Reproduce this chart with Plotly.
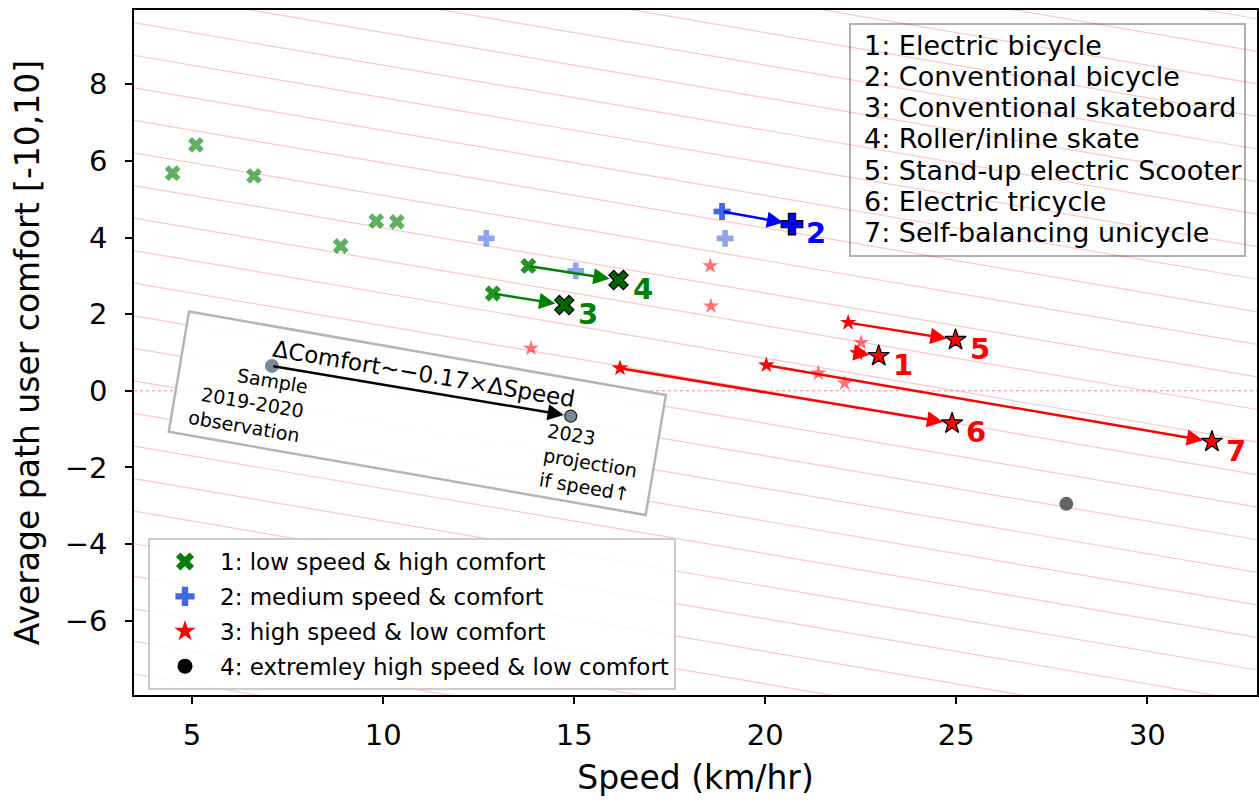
import plotly.graph_objects as go

# ---------------- data ----------------
green_speed = [4.49, 5.10, 6.62, 8.89, 9.82, 10.36, 12.87, 13.80]
green_comfort = [5.68, 6.42, 5.61, 3.78, 4.43, 4.41, 2.54, 3.26]

blue_speed = [12.70, 15.04, 18.87, 18.95]
blue_comfort = [3.98, 3.13, 4.68, 3.98]

red_speed = [13.87, 16.20, 18.56, 18.58, 20.03, 21.39, 22.08, 22.17, 22.41, 22.51]
red_comfort = [1.11, 0.59, 3.26, 2.21, 0.67, 0.46, 0.20, 1.78, 0.99, 1.26]

black_speed = [27.88]
black_comfort = [-2.95]

veh_ids = [1, 2, 3, 4, 5, 6, 7]
veh_names = ["Electric bicycle", "Conventional bicycle", "Conventional skateboard",
             "Roller/inline skate", "Stand-up electric Scooter", "Electric tricycle",
             "Self-balancing unicycle"]
veh_group = ["red", "blue", "green", "green", "red", "red", "red"]
veh_start_speed = [22.41, 18.87, 12.87, 13.80, 22.17, 16.20, 20.03]
veh_start_comfort = [0.99, 4.68, 2.54, 3.26, 1.78, 0.59, 0.67]
veh_end_speed = [22.97, 20.70, 14.74, 16.16, 24.98, 24.89, 31.69]
veh_end_comfort = [0.91, 4.35, 2.24, 2.89, 1.33, -0.85, -1.33]

demo_speed = [7.09, 14.91]
demo_comfort = [0.65, -0.66]
demo_slope = -0.17

legend_labels = ["1: low speed & high comfort", "2: medium speed & comfort",
                 "3: high speed & low comfort", "4: extremley high speed & low comfort"]

# ---------------- styles ----------------
FONT = "DejaVu Sans"
X_RANGE = [3.48, 32.87]
Y_RANGE = [-7.94, 9.94]

group_style = {
    "green": dict(symbol="x", light="rgba(0,128,0,0.62)", start="rgba(0,128,0,0.62)",
                  dark="#006400", text="#008000", size=14, dsize=17),
    "blue": dict(symbol="cross", light="rgba(65,105,225,0.6)", start="#4169e1",
                 dark="#0000ff", text="#0000ff", size=14, dsize=18),
    "red": dict(symbol="star", light="rgba(255,0,0,0.55)", start="#ff0000",
                dark="#ff0000", text="#ff0000", size=12, dsize=16),
}

fig = go.Figure()

shapes = []
# background iso-lines (slope -0.17 through each x tick on y=0)
for k in range(-9, 20):
    xa, xb = X_RANGE[0] - 5, X_RANGE[1] + 5
    shapes.append(dict(type="line", xref="x", yref="y", layer="below",
                       x0=xa, y0=demo_slope * (xa - 5 * k),
                       x1=xb, y1=demo_slope * (xb - 5 * k),
                       line=dict(color="rgba(255,0,0,0.22)", width=1.2)))
# dotted zero line
shapes.append(dict(type="line", xref="paper", yref="y", layer="below",
                   x0=0, x1=1, y0=0, y1=0,
                   line=dict(color="rgba(255,0,0,0.45)", width=1, dash="dot")))
# rotated box behind the demo arrow
box = [(4.92, 2.07), (17.40, -0.11), (16.87, -3.24), (4.39, -1.07)]
path = "M " + " L ".join(f"{a},{b}" for a, b in box) + " Z"
shapes.append(dict(type="path", xref="x", yref="y", layer="below", path=path,
                   fillcolor="rgba(255,255,255,0.92)",
                   line=dict(color="#b5b5b5", width=2.5)))
# right text legend box
px_l, px_t = 134, 10
pw, ph = 1123, 685
def px2paper(px, py):
    return (px - px_l) / pw, (px_t + ph - py) / ph
bx0, by0 = px2paper(850, 256)
bx1, by1 = px2paper(1245, 24)
shapes.append(dict(type="rect", xref="paper", yref="paper", layer="below",
                   x0=bx0, y0=by0, x1=bx1, y1=by1,
                   fillcolor="rgba(255,255,255,0.92)",
                   line=dict(color="#b0b0b0", width=2)))

# sample scatter
def add_samples(xs, ys, g):
    st = group_style[g]
    fig.add_trace(go.Scatter(x=xs, y=ys, mode="markers", showlegend=False, hoverinfo="skip",
                             marker=dict(symbol=st["symbol"], size=st["size"], color=st["light"],
                                         line=dict(width=0))))

add_samples(green_speed, green_comfort, "green")
add_samples(blue_speed, blue_comfort, "blue")
add_samples(red_speed, red_comfort, "red")
fig.add_trace(go.Scatter(x=black_speed, y=black_comfort, mode="markers", showlegend=False,
                         hoverinfo="skip",
                         marker=dict(symbol="circle", size=14, color="rgba(0,0,0,0.6)")))

# vehicle start markers
for g in ["green", "blue", "red"]:
    st = group_style[g]
    idx = [i for i in range(7) if veh_group[i] == g]
    fig.add_trace(go.Scatter(x=[veh_start_speed[i] for i in idx],
                             y=[veh_start_comfort[i] for i in idx],
                             mode="markers", showlegend=False, hoverinfo="skip",
                             marker=dict(symbol=st["symbol"], size=st["size"], color=st["start"],
                                         line=dict(width=0))))
# vehicle end markers
for g in ["green", "blue", "red"]:
    st = group_style[g]
    idx = [i for i in range(7) if veh_group[i] == g]
    fig.add_trace(go.Scatter(x=[veh_end_speed[i] for i in idx],
                             y=[veh_end_comfort[i] for i in idx],
                             mode="markers", showlegend=False, hoverinfo="skip",
                             marker=dict(symbol=st["symbol"], size=st["dsize"], color=st["dark"],
                                         line=dict(width=1.2, color="black"))))

# demo dots
fig.add_trace(go.Scatter(x=demo_speed[:1], y=demo_comfort[:1], mode="markers", showlegend=False,
                         hoverinfo="skip",
                         marker=dict(symbol="circle", size=14, color="#778899", line=dict(width=0))))
fig.add_trace(go.Scatter(x=demo_speed[1:], y=demo_comfort[1:], mode="markers", showlegend=False,
                         hoverinfo="skip",
                         marker=dict(symbol="circle", size=12, color="#778899",
                                     line=dict(width=1.2, color="#222222"))))

# legend entries
leg_styles = [("x", "#008000", 18), ("cross", "#4169e1", 18), ("star", "#ff0000", 17),
              ("circle", "#000000", 15)]
for lab, (sym, col, sz), grp in zip(legend_labels, leg_styles, ["a", "b", "c", "d"]):
    fig.add_trace(go.Scatter(x=[None], y=[None], mode="markers", name=lab, legendgroup=grp,
                             marker=dict(symbol=sym, color=col, size=sz, line=dict(width=0))))

annotations = []
# vehicle arrows and labels
for i in range(7):
    st = group_style[veh_group[i]]
    arrow_col = {"green": "#008000", "blue": "#0000ff", "red": "#ff0000"}[veh_group[i]]
    annotations.append(dict(x=veh_end_speed[i], y=veh_end_comfort[i], xref="x", yref="y",
                            ax=veh_start_speed[i], ay=veh_start_comfort[i], axref="x", ayref="y",
                            text="", showarrow=True, arrowhead=2, arrowsize=1.3, arrowwidth=2.5,
                            arrowcolor=arrow_col, standoff=9))
    annotations.append(dict(x=veh_end_speed[i], y=veh_end_comfort[i], xref="x", yref="y",
                            text=f"<b>{veh_ids[i]}</b>", showarrow=False, xshift=24, yshift=-9,
                            font=dict(family=FONT, size=29, color=st["text"])))
# demo arrow
annotations.append(dict(x=demo_speed[1], y=demo_comfort[1], xref="x", yref="y",
                        ax=demo_speed[0], ay=demo_comfort[0], axref="x", ayref="y",
                        text="", showarrow=True, arrowhead=2, arrowsize=1.3, arrowwidth=2.5,
                        arrowcolor="black", standoff=7))
ang = 9.6
mid_x = (demo_speed[0] + demo_speed[1]) / 2
mid_y = (demo_comfort[0] + demo_comfort[1]) / 2
annotations.append(dict(x=mid_x, y=mid_y, xref="x", yref="y", text="ΔComfort~−0.17×ΔSpeed",
                        showarrow=False, textangle=ang, xshift=3, yshift=17,
                        font=dict(family=FONT, size=23, color="black")))
annotations.append(dict(x=demo_speed[0], y=demo_comfort[0], xref="x", yref="y",
                        text="Sample<br>2019-2020<br>observation", showarrow=False,
                        textangle=ang, xshift=-24, yshift=-36, align="right",
                        font=dict(family=FONT, size=19, color="black")))
annotations.append(dict(x=demo_speed[1], y=demo_comfort[1], xref="x", yref="y",
                        text="2023<br>projection<br>if speed↑", showarrow=False,
                        textangle=ang, xshift=20, yshift=-46, align="left",
                        font=dict(family=FONT, size=19, color="black")))
# right text legend
for i in range(7):
    tx, ty = px2paper(862, 46 + 31 * i)
    annotations.append(dict(x=tx, y=ty, xref="paper", yref="paper", xanchor="left",
                            yanchor="middle", showarrow=False,
                            text=f"{veh_ids[i]}: {veh_names[i]}",
                            font=dict(family=FONT, size=27, color="black")))

lx, ly = px2paper(148, 538)
fig.update_layout(
    width=1259, height=803,
    margin=dict(l=134, r=2, t=10, b=108),
    paper_bgcolor="white", plot_bgcolor="white",
    font=dict(family=FONT, color="black"),
    shapes=shapes, annotations=annotations,
    showlegend=True,
    legend=dict(x=lx, y=ly, xanchor="left", yanchor="top",
                bgcolor="rgba(255,255,255,0.85)", bordercolor="#cccccc", borderwidth=2,
                font=dict(family=FONT, size=23, color="black"),
                tracegroupgap=2, itemwidth=60),
    xaxis=dict(range=X_RANGE, showgrid=False, zeroline=False, automargin=False,
               showline=True, mirror=True, linecolor="black", linewidth=1.5,
               ticks="outside", ticklen=7, tickwidth=1.5, tickcolor="black",
               ticklabelstandoff=6,
               tickvals=[5, 10, 15, 20, 25, 30],
               tickfont=dict(family=FONT, size=29, color="black"),
               title=dict(text="Speed (km/hr)", font=dict(family=FONT, size=33, color="black"),
                          standoff=15)),
    yaxis=dict(range=Y_RANGE, showgrid=False, zeroline=False, automargin=False,
               showline=True, mirror=True, linecolor="black", linewidth=1.5,
               ticks="outside", ticklen=7, tickwidth=1.5, tickcolor="black",
               ticklabelstandoff=12,
               tickvals=[-6, -4, -2, 0, 2, 4, 6, 8],
               ticktext=["−6", "−4", "−2", "0", "2", "4", "6", "8"],
               tickfont=dict(family=FONT, size=29, color="black"),
               title=dict(text="Average path user comfort [-10,10]",
                          font=dict(family=FONT, size=33, color="black"), standoff=15)),
)

fig.write_html("out.html", config={"displayModeBar": False},
               post_script="document.body.style.margin='0';")
